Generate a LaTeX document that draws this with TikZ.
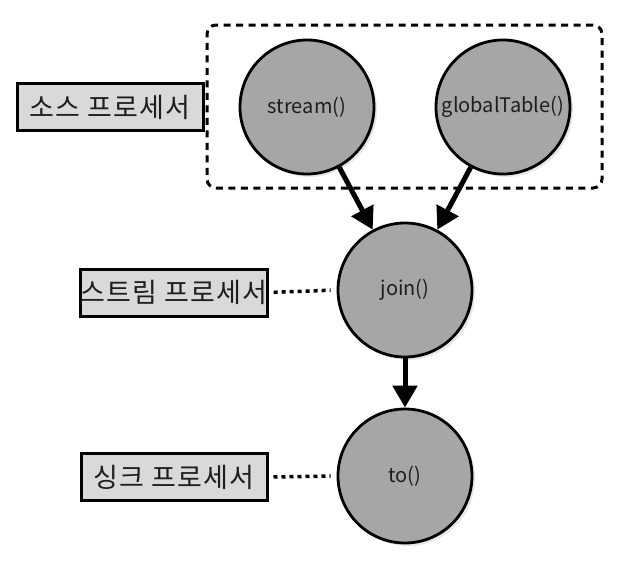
\documentclass[tikz,border=0pt]{standalone}
\usepackage{fontspec}
\setmainfont{Noto Sans CJK KR}
\newfontfamily\lblfont[LetterSpace=4]{Noto Sans CJK KR}
\usetikzlibrary{arrows.meta,shadows}
\definecolor{procgray}{HTML}{A6A6A6}
\definecolor{lblgray}{HTML}{D9D9D9}
\definecolor{textcol}{HTML}{1E1E1E}
\begin{document}
\begin{tikzpicture}[x=1pt,y=-1pt,
  proc/.style={circle, draw=black, line width=2.8pt, fill=procgray, minimum size=134pt, inner sep=0pt,
    font=\fontsize{20}{24}\selectfont, text=textcol,
    drop shadow={opacity=0.18, shadow xshift=3pt, shadow yshift=-3pt}},
  lbl/.style={draw=black, line width=3pt, fill=lblgray, minimum width=186pt, minimum height=47pt,
    inner sep=0pt, font=\lblfont\fontsize{27}{30}\selectfont, text=textcol},
  flow/.style={line width=5pt, -{Triangle[length=22pt,width=24pt]}},
  link/.style={line width=3.5pt, dash pattern=on 4pt off 4pt, shorten <=5pt, shorten >=6pt},
  group/.style={draw=black, line width=3pt, dash pattern=on 7pt off 5.5pt, rounded corners=9pt,
    minimum width=395pt, minimum height=163pt, inner sep=0pt}]
\useasboundingbox (0,0) rectangle (641,579);
\node[group] (src) at (404.5,106.5) {};
\node[proc] (stream) at (307,107) {stream()};
\node[proc] (global) at (503,107) {globalTable()};
\node[proc] (join) at (405,290) {join()};
\node[proc] (to) at (405,476) {to()};
\node[lbl] (srclbl) at (110,107) {소스 프로세서};
\node[lbl] (strlbl) at (174,292.5) {스트림 프로세서};
\node[lbl] (snklbl) at (174,477) {싱크 프로세서};
\draw[flow] (stream) -- (join);
\draw[flow] (global) -- (join);
\draw[flow] (join) -- (to);
\draw[link] (strlbl.east) -- (join.west);
\draw[link] (snklbl.east) -- (to.west);
\end{tikzpicture}
\end{document}
